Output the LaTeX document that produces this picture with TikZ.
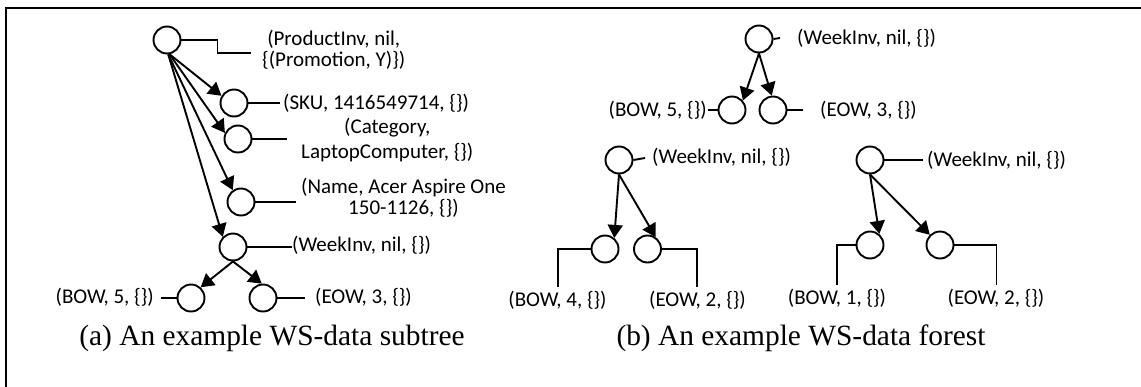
\documentclass[tikz,border=0pt]{standalone}
\usepackage{fontspec}
\setmainfont{Liberation Serif}
\newfontfamily\lblfont{Carlito}
\usetikzlibrary{arrows.meta}
\begin{document}
\begin{tikzpicture}[x=1pt,y=-1pt,
  vtx/.style={circle,draw,line width=1.9pt,minimum size=27pt,inner sep=0pt},
  arr/.style={line width=1.9pt,-{Triangle[length=13pt,width=15pt]}},
  lead/.style={line width=1.9pt},
  lbl/.style={font=\lblfont\fontsize{21}{21}\selectfont,inner sep=0pt},
  captext/.style={font=\fontsize{29.4}{32}\selectfont,inner sep=0pt}]
\useasboundingbox (0,0) rectangle (1141,386);
\fill[white] (0,0) rectangle (1141,386);
% frame (top and left edges)
\draw[line width=2.2pt] (6,392) -- (6,8) -- (1148,8);

% ---------- (a) WS-data subtree ----------
\node[vtx] (pinv) at (167,40) {};
\node[vtx] (sku) at (234,103) {};
\node[vtx] (cat) at (238,139) {};
\node[vtx] (nam) at (241,202) {};
\node[vtx] (wka) at (233,247) {};
\node[vtx] (bowa) at (191,298) {};
\node[vtx] (eowa) at (263,298) {};

\draw[arr] (pinv.-80) -- (sku.150);
\draw[arr] (pinv.-80) -- (cat.155);
\draw[arr] (pinv.-85) -- (nam.125);
\draw[arr] (pinv.-85) -- (wka.135);
\draw[arr] (wka.south) -- (bowa.48);
\draw[arr] (wka.south) -- (eowa.95);

\coordinate (pinvE) at (251,53);
\coordinate (skuE) at (280,103);
\coordinate (catE) at (287,139);
\coordinate (namE) at (296,202);
\coordinate (wkaE) at (292,247);
\coordinate (bowaE) at (161,298);
\coordinate (eowaE) at (305,298);
\draw[lead] (pinv.east) -- ++(36,0) |- (pinvE);
\draw[lead] (sku.east) -- (skuE);
\draw[lead] (cat.east) -- (catE);
\draw[lead] (nam.east) -- (namE);
\draw[lead] (wka.east) -- (wkaE);
\draw[lead] (bowa.west) -- (bowaE);
\draw[lead] (eowa.east) -- (eowaE);

\node[lbl,anchor=west,align=center,font=\lblfont\fontsize{21}{20.5}\selectfont] (pinvT) at (262,50) {(ProductInv, nil,\\\{(Promotion, Y)\})};
\node[lbl,anchor=west] (skuT) at (283,103) {(SKU, 1416549714, \{\})};
\node[lbl,anchor=west,align=center,font=\lblfont\fontsize{21}{24.5}\selectfont] (catT) at (301,140) {(Category,\\LaptopComputer, \{\})};
\node[lbl,anchor=west,align=center] (namT) at (301,197.5) {(Name, Acer Aspire One\\150-1126, \{\})};
\node[lbl,anchor=west] (wkaT) at (292,245) {(WeekInv, nil, \{\})};
\node[lbl,anchor=east] (bowaT) at (154,297) {(BOW, 5, \{\})};
\node[lbl,anchor=west] (eowaT) at (315,297) {(EOW, 3, \{\})};
\node[captext] (capa) at (272,338) {(a) An example WS-data subtree};

% ---------- (b) WS-data forest ----------
% first tree
\node[vtx] (wkb) at (759,39) {};
\node[vtx] (bowb) at (732,110) {};
\node[vtx] (eowb) at (773,110) {};
\draw[arr] (wkb.south) -- (bowb.41);
\draw[arr] (wkb.south) -- (eowb.95);
\coordinate (wkbE) at (780,38);
\coordinate (bowbE) at (708,110);
\coordinate (eowbE) at (803,110);
\draw[lead] (wkb.east) -- (wkbE);
\draw[lead] (bowb.west) -- (bowbE);
\draw[lead] (eowb.east) -- (eowbE);
\node[lbl,anchor=west] (wkbT) at (797,38) {(WeekInv, nil, \{\})};
\node[lbl,anchor=east] (bowbT) at (707,110) {(BOW, 5, \{\})};
\node[lbl,anchor=west] (eowbT) at (820,110) {(EOW, 3, \{\})};

% second tree
\node[vtx] (wkc) at (619,160) {};
\node[vtx] (bowc) at (605,249) {};
\node[vtx] (eowc) at (647.5,249) {};
\draw[arr] (wkc.south) -- (bowc.50);
\draw[arr] (wkc.south) -- (eowc.56);
\coordinate (wkcE) at (645,158);
\coordinate (bowcE) at (558,287);
\coordinate (eowcE) at (697,287);
\draw[lead] (wkc.east) -- (wkcE);
\draw[lead] (bowc.west) -| (bowcE);
\draw[lead] (eowc.east) -| (eowcE);
\node[lbl,anchor=west] (wkcT) at (652,157) {(WeekInv, nil, \{\})};
\node[lbl] (bowcT) at (557.5,300) {(BOW, 4, \{\})};
\node[lbl] (eowcT) at (697.5,300) {(EOW, 2, \{\})};

% third tree
\node[vtx] (wkd) at (870,160) {};
\node[vtx] (bowd) at (870,245) {};
\node[vtx] (eowd) at (940,245) {};
\draw[arr] (wkd.south) -- (bowd.50);
\draw[arr] (wkd.south) -- (eowd.135);
\coordinate (wkdE) at (923,160);
\coordinate (bowdE) at (837,285);
\coordinate (eowdE) at (996.5,285);
\draw[lead] (wkd.east) -- (wkdE);
\draw[lead] (bowd.west) -| (bowdE);
\draw[lead] (eowd.east) -| (eowdE);
\node[lbl,anchor=west] (wkdT) at (927,160) {(WeekInv, nil, \{\})};
\node[lbl] (bowdT) at (837,298) {(BOW, 1, \{\})};
\node[lbl] (eowdT) at (996,298) {(EOW, 2, \{\})};

\node[captext] (capb) at (801,338) {(b) An example WS-data forest};
\end{tikzpicture}
\end{document}
